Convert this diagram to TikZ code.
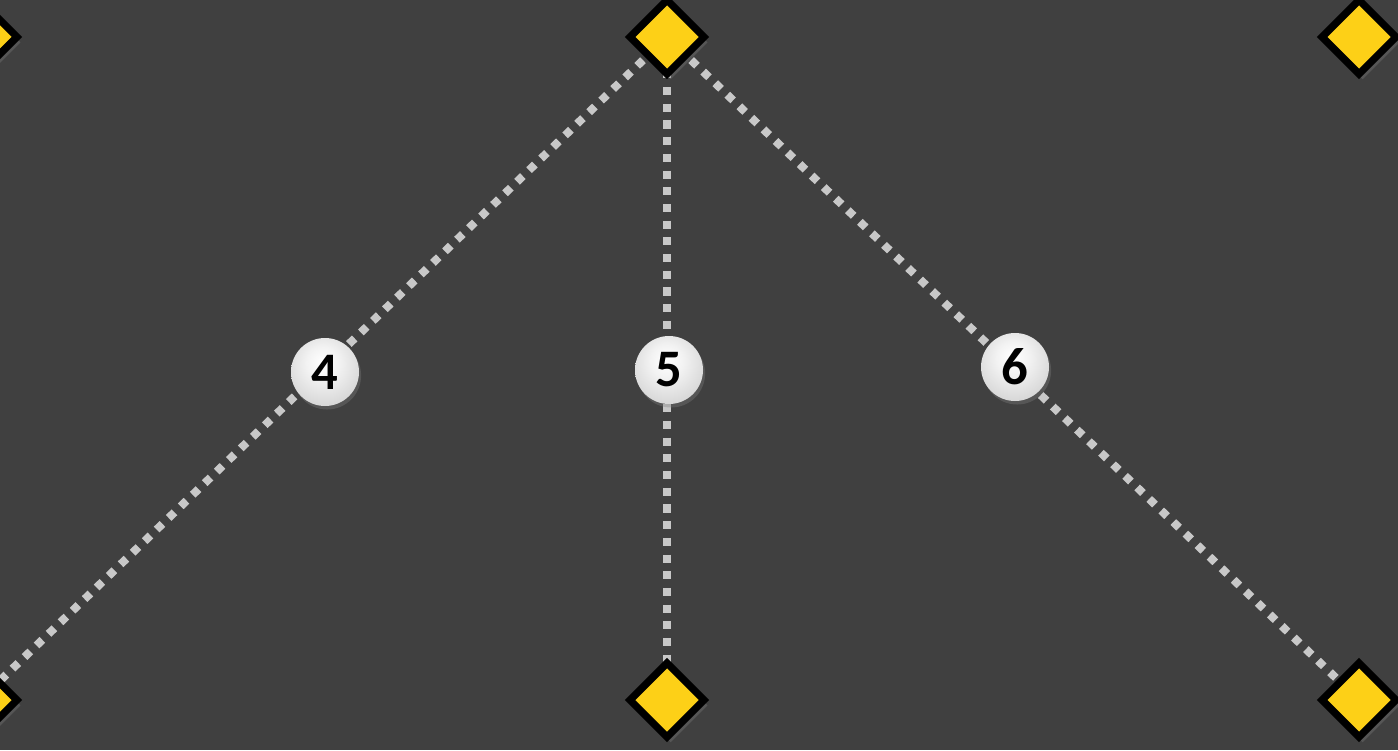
\documentclass[tikz,border=0pt]{standalone}
\usepackage{fontspec}
\setmainfont{Carlito}
\usetikzlibrary{shapes.geometric,shadows}
\pgfdeclarelayer{back}
\pgfdeclarelayer{bg}
\pgfsetlayers{back,bg,main}
\definecolor{bgcol}{HTML}{404040}
\definecolor{dotcol}{HTML}{C8C8C8}
\definecolor{gold}{HTML}{FDD017}
\pgfdeclareradialshading{sphere}{\pgfpoint{-2bp}{8bp}}{color(0bp)=(white); color(12bp)=(white!95!black); color(30bp)=(white!84!black); color(44bp)=(white!68!black); color(50bp)=(white!60!black); color(70bp)=(white!60!black)}
\tikzset{
  marker/.style={shape=diamond, aspect=1, inner sep=0pt, minimum size=0.77cm, fill=gold, draw=black, line width=2.1pt,
    drop shadow={shadow xshift=1pt, shadow yshift=-1.5pt, opacity=0.35}},
  numball/.style={circle, inner sep=0pt, minimum size=0.68cm, shading=sphere, text=black,
    font=\fontsize{15}{15}\selectfont\bfseries,
    drop shadow={shadow xshift=0.6pt, shadow yshift=-1pt, opacity=0.35}},
  dotline/.style={draw=dotcol, line width=2.3pt, dash pattern=on 2.3pt off 2.45pt}
}
\begin{document}
\begin{tikzpicture}
\useasboundingbox (0,0) rectangle (13.98,7.5);
\clip (0,0) rectangle (13.98,7.5);
\node[marker] (tl) at (-0.20,7.13) {};
\node[marker] (tm) at (6.67,7.13) {};
\node[marker] (tr) at (13.59,7.13) {};
\node[marker] (bl) at (-0.20,0.50) {};
\node[marker] (bm) at (6.67,0.50) {};
\node[marker] (br) at (13.59,0.50) {};
\node[numball] (n4) at (3.25,3.78) {4};
\node[numball] (n5) at (6.69,3.80) {5};
\node[numball] (n6) at (10.15,3.83) {6};
\begin{pgfonlayer}{back}
\fill[bgcol] (0,0) rectangle (13.98,7.5);
\end{pgfonlayer}
\begin{pgfonlayer}{bg}
\draw[dotline] (tm.center) -- (bl.center);
\draw[dotline] (tm.center) -- (bm.center);
\draw[dotline] (tm.center) -- (br.center);
\end{pgfonlayer}
\end{tikzpicture}
\end{document}
